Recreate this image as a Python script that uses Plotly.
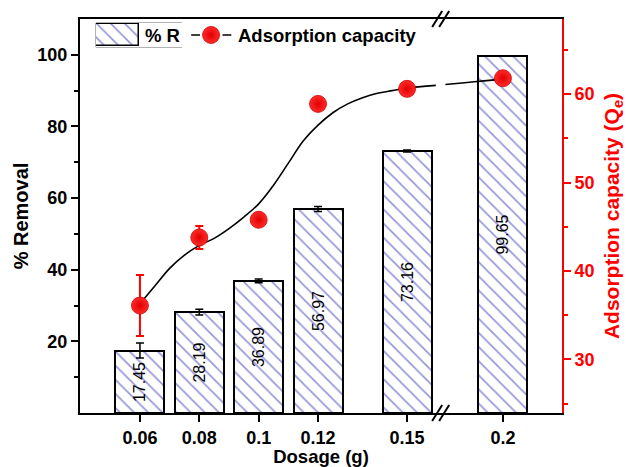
import plotly.graph_objects as go

# ---------------- data ----------------
dosage_labels = ["0.06", "0.08", "0.1", "0.12", "0.15", "0.2"]
dosage = [0.06, 0.08, 0.10, 0.12, 0.15, 0.20]
removal = [17.45, 28.19, 36.89, 56.97, 73.16, 99.65]
removal_err = [2.1, 0.8, 0.5, 0.7, 0.3, 0.0]
qe = [36.1, 43.8, 45.8, 58.9, 60.6, 61.8]
qe_err = [3.45, 1.3, 0.3, 0.3, 0.3, 0.3]
# fitted smooth curve (None = axis break gap)
curve_dose = [0.06, 0.065, 0.07, 0.075, 0.08, 0.085, 0.09, 0.095, 0.10, 0.105, 0.11,
              0.115, 0.12, 0.125, 0.13, 0.135, 0.14, 0.145, 0.15, 0.165, None,
              0.17, 0.18, 0.19, 0.20]
curve_qe = [36.3, 38.3, 40.3, 41.8, 42.9, 43.7, 44.8, 46.1, 47.6, 49.7, 52.2,
            54.7, 56.5, 57.9, 58.9, 59.6, 60.1, 60.4, 60.7, 61.0, None,
            61.1, 61.3, 61.5, 61.7]

# ---------------- broken x axis ----------------
BREAK_AT = 0.15
COMPRESS = 0.646


def xpos(d):
    if d is None:
        return None
    return d if d <= BREAK_AT else BREAK_AT + (d - BREAK_AT) * COMPRESS


BREAK_DOSE = 0.1683
x_pos = [xpos(d) for d in dosage]
curve_x = [xpos(d) for d in curve_dose]

FONT = "Liberation Sans, Arial, sans-serif"
BLUE = "#2e2eb4"
RED = "#ff0000"
HATCH = dict(shape="\\", fgcolor=BLUE, bgcolor="white", size=10, solidity=0.17)
BALL = dict(color="#ff2a2a", size=17, line=dict(color="#d00000", width=0.8),
            gradient=dict(type="radial", color="#e00000"))

fig = go.Figure()

fig.add_trace(go.Bar(
    x=x_pos, y=removal, width=0.0165,
    marker=dict(color="white", line=dict(color="black", width=2), pattern=HATCH),
    error_y=dict(type="data", array=removal_err, color="black", thickness=1.5, width=4),
    text=[f"{v:.2f}" for v in removal], textposition="inside", insidetextanchor="middle",
    textangle=-90, textfont=dict(family=FONT, size=16, color="black"),
    constraintext="none", showlegend=False, cliponaxis=False,
))

fig.add_trace(go.Scatter(
    x=curve_x, y=curve_qe, yaxis="y2", mode="lines",
    line=dict(color="black", width=1.6, shape="spline", smoothing=1.0),
    connectgaps=False, showlegend=False, hoverinfo="skip",
))

fig.add_trace(go.Scatter(
    x=x_pos, y=qe, yaxis="y2", mode="markers", marker=BALL,
    error_y=dict(type="data", array=qe_err, color=RED, thickness=2, width=4),
    showlegend=False, cliponaxis=False,
))

# ---------------- custom legend (swatch axes) ----------------
fig.add_trace(go.Bar(
    x=[0.158], y=[0.92], base=[0.04], width=[0.316], xaxis="x3", yaxis="y3",
    marker=dict(color="white", line=dict(color="black", width=1.5), pattern=HATCH),
    showlegend=False, hoverinfo="skip",
))
fig.add_trace(go.Scatter(
    x=[0.70, 0.765, None, 0.93, 0.995], y=[0.5, 0.5, None, 0.5, 0.5], xaxis="x3", yaxis="y3",
    mode="lines", line=dict(color="black", width=1.5), showlegend=False, hoverinfo="skip",
))
fig.add_trace(go.Scatter(
    x=[0.846], y=[0.5], xaxis="x3", yaxis="y3", mode="markers", marker=BALL,
    showlegend=False, hoverinfo="skip",
))

W, H = 626, 467
ML, MR, MT, MB = 80, 64, 19, 54
PW, PH = W - ML - MR, H - MT - MB


def px_x(p):
    return (p - ML) / PW


def px_y(p):
    return (H - MB - p) / PH


shapes = []
# legend frame around first item
shapes.append(dict(type="rect", xref="paper", yref="paper",
                   x0=px_x(96), x1=px_x(182), y0=px_y(47), y1=px_y(23),
                   line=dict(color="#666666", width=1), fillcolor="rgba(0,0,0,0)", layer="below"))
# axis break marks
for yanc in (0, 1):
    for off in (-5, 2):
        shapes.append(dict(type="line", xref="x", yref="paper", xsizemode="pixel", ysizemode="pixel",
                           xanchor=xpos(BREAK_DOSE), yanchor=yanc,
                           x0=off - 5, y0=-8, x1=off + 5, y1=8,
                           line=dict(color="black", width=2)))

annotations = [
    dict(text="% R", x=px_x(143), y=px_y(35), xref="paper", yref="paper", xanchor="left",
         yanchor="middle", showarrow=False, font=dict(family=FONT, size=18.5, color="black", weight="bold")),
    dict(text="Adsorption capacity", x=px_x(236), y=px_y(35), xref="paper", yref="paper",
         xanchor="left", yanchor="middle", showarrow=False,
         font=dict(family=FONT, size=18.5, color="black", weight="bold")),
]

fig.update_layout(
    width=W, height=H, margin=dict(l=ML, r=MR, t=MT, b=MB, autoexpand=False),
    paper_bgcolor="white", plot_bgcolor="white",
    font=dict(family=FONT, size=18, color="black"),
    bargap=0, showlegend=False,
    xaxis=dict(range=[0.0398, 0.2022], tickmode="array", tickvals=x_pos, ticktext=dosage_labels,
               showline=True, linecolor="black", linewidth=2, mirror=True, ticks="outside",
               ticklen=7, tickwidth=2, tickcolor="black", showgrid=False, zeroline=False,
               ticklabelstandoff=0, automargin=False,
               tickfont=dict(family=FONT, size=18, weight="bold"),
               title=dict(text="Dosage (g)", standoff=4, font=dict(family=FONT, size=18.5, weight="bold"))),
    yaxis=dict(range=[0, 110], tickmode="array", tickvals=[20, 40, 60, 80, 100],
               minor=dict(tickvals=[10, 30, 50, 70, 90], ticks="outside", ticklen=4, tickwidth=2,
                          tickcolor="black"),
               showline=True, linecolor="black", linewidth=2, ticks="outside", ticklen=7, tickwidth=2,
               tickcolor="black", showgrid=False, zeroline=False, automargin=False,
               tickfont=dict(family=FONT, size=18, weight="bold"),
               title=dict(text="% Removal", standoff=3, font=dict(family=FONT, size=20, weight="bold"))),
    yaxis2=dict(overlaying="y", side="right", range=[23.95, 68.5], tickmode="array",
                tickvals=[30, 40, 50, 60],
                minor=dict(tickvals=[25, 35, 45, 55, 65], ticks="outside", ticklen=4, tickwidth=2,
                           tickcolor=RED),
                showline=True, linecolor=RED, linewidth=2, ticks="outside", ticklen=7, tickwidth=2,
                tickcolor=RED, showgrid=False, zeroline=False, automargin=False,
                tickfont=dict(family=FONT, size=18, color=RED, weight="bold"),
                title=dict(text="Adsorption capacity (Q<sub>e</sub>)", standoff=11,
                           font=dict(family=FONT, size=21, color=RED, weight="bold"))),
    xaxis3=dict(domain=[px_x(96), px_x(232)], range=[0, 1], anchor="y3", visible=False, fixedrange=True),
    yaxis3=dict(domain=[px_y(47), px_y(23)], range=[0, 1], anchor="x3", visible=False, fixedrange=True),
    shapes=shapes, annotations=annotations,
)

fig.write_html("out.html")
